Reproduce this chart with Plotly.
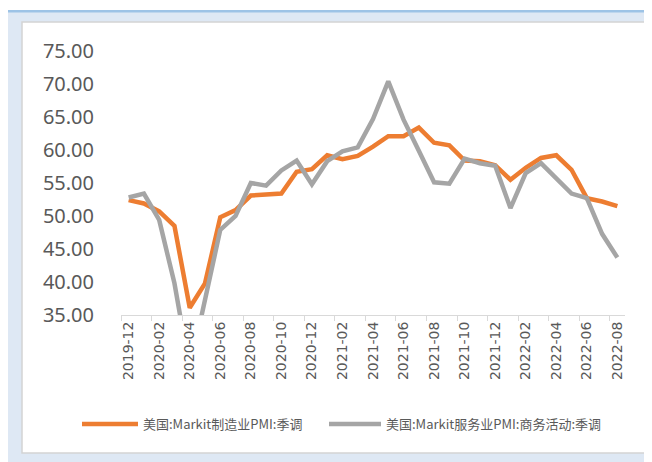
import plotly.graph_objects as go

months = ["2019-12", "2020-01", "2020-02", "2020-03", "2020-04", "2020-05", "2020-06",
          "2020-07", "2020-08", "2020-09", "2020-10", "2020-11", "2020-12", "2021-01",
          "2021-02", "2021-03", "2021-04", "2021-05", "2021-06", "2021-07", "2021-08",
          "2021-09", "2021-10", "2021-11", "2021-12", "2022-01", "2022-02", "2022-03",
          "2022-04", "2022-05", "2022-06", "2022-07", "2022-08"]

manufacturing_pmi = [52.4, 51.9, 50.7, 48.5, 36.1, 39.8, 49.8, 50.9, 53.1, 53.2, 53.4,
                     56.7, 57.1, 59.2, 58.6, 59.1, 60.5, 62.1, 62.1, 63.4, 61.1, 60.7,
                     58.4, 58.3, 57.7, 55.5, 57.3, 58.8, 59.2, 57.0, 52.7, 52.2, 51.5]

services_pmi = [52.8, 53.4, 49.4, 39.8, 26.7, 37.5, 47.9, 50.0, 55.0, 54.6, 56.9,
                58.4, 54.8, 58.3, 59.8, 60.4, 64.7, 70.4, 64.6, 59.9, 55.1, 54.9,
                58.7, 58.0, 57.6, 51.2, 56.5, 58.0, 55.6, 53.4, 52.7, 47.3, 43.7]

series_names = ["美国:Markit制造业PMI:季调", "美国:Markit服务业PMI:商务活动:季调"]
series_colors = ["#ED7D31", "#A5A5A5"]

OFF = 8  # page body margin
W, H = 652, 462
L, T = 121 - OFF, 51 - OFF
pw, ph = 504, 264
R, B = W - L - pw, H - T - ph

def px_x(p):
    return (p - OFF - L) / pw

def px_y(p):
    return (T + ph - (p - OFF)) / ph

fig = go.Figure()
for i, (name, vals, col) in enumerate(zip(series_names, [manufacturing_pmi, services_pmi], series_colors)):
    fig.add_trace(go.Scatter(x=months, y=vals, mode="lines", name=name,
                             legend="legend" if i == 0 else "legend2",
                             line=dict(color=col, width=4.5)))

shapes = [
    dict(type="rect", xref="paper", yref="paper", x0=px_x(8), x1=px_x(720),
         y0=px_y(10), y1=px_y(520), fillcolor="#DEE8F4", line=dict(width=0), layer="below"),
    dict(type="rect", xref="paper", yref="paper", x0=px_x(8), x1=px_x(720),
         y0=px_y(10), y1=px_y(12.5), fillcolor="#9DC3E6", line=dict(width=0), layer="below"),
    dict(type="rect", xref="paper", yref="paper", x0=px_x(22), x1=px_x(720),
         y0=px_y(22), y1=px_y(453), fillcolor="#FFFFFF",
         line=dict(color="#D4D4D4", width=1.5), layer="below"),
]

legend_font = dict(family="Noto Sans CJK SC", size=13, color="#595959")

fig.update_layout(
    width=W, height=H,
    margin=dict(l=L, r=R, t=T, b=B, pad=0),
    paper_bgcolor="#FFFFFF",
    plot_bgcolor="rgba(0,0,0,0)",
    shapes=shapes,
    showlegend=True,
    legend=dict(orientation="h", x=px_x(77), y=px_y(424), xanchor="left", yanchor="middle",
                font=legend_font, itemwidth=56, bgcolor="rgba(0,0,0,0)"),
    legend2=dict(orientation="h", x=px_x(324), y=px_y(424), xanchor="left", yanchor="middle",
                 font=legend_font, itemwidth=52, bgcolor="rgba(0,0,0,0)"),
    xaxis=dict(type="category", tickmode="linear", tick0=0, dtick=2,
               tickson="boundaries", ticks="outside", ticklen=5, tickcolor="#D9D9D9",
               showline=True, linecolor="#D9D9D9", linewidth=1, showgrid=False,
               tickangle=-90, range=[-0.5, len(months) - 0.5],
               tickfont=dict(family="DejaVu Sans", size=14, color="#595959"),
               zeroline=False),
    yaxis=dict(range=[35, 75], tickmode="linear", tick0=35, dtick=5, tickformat=".2f",
               showgrid=False, showline=False, zeroline=False, ticks="",
               ticklabelstandoff=26,
               tickfont=dict(family="Noto Sans", size=20, color="#595959")),
)

fig.write_html("out.html")
